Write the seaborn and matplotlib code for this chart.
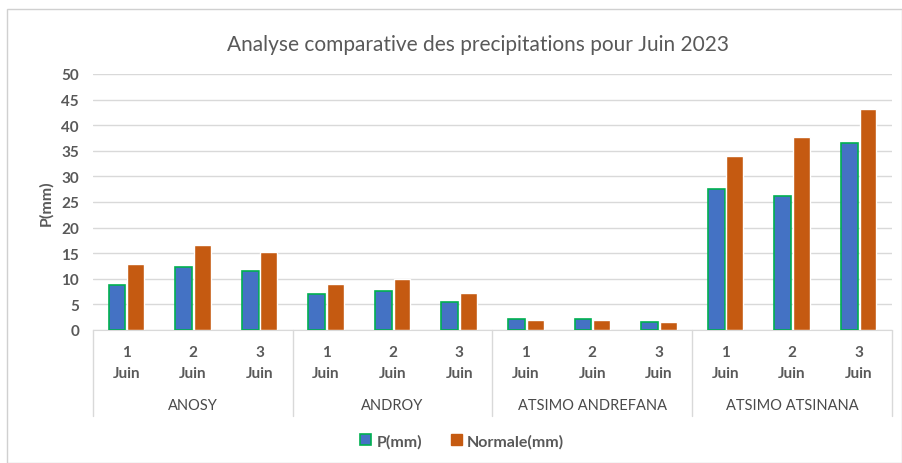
import pandas as pd
import matplotlib.pyplot as plt
import matplotlib.patches as mpatches
import seaborn as sns

regions = ["ANOSY", "ANDROY", "ATSIMO ANDREFANA", "ATSIMO ATSINANA"]
days = ["1\nJuin", "2\nJuin", "3\nJuin"]
p_mm = [8.8, 12.4, 11.6, 7.0, 7.6, 5.4, 2.1, 2.1, 1.5, 27.5, 26.1, 36.5]
normale_mm = [12.9, 16.6, 15.3, 9.0, 9.9, 7.3, 1.9, 1.9, 1.5, 33.9, 37.7, 43.2]

keys = [f"{r}|{d}" for r in regions for d in days]
df = pd.DataFrame({
    "cat": keys * 2,
    "val": p_mm + normale_mm,
    "serie": ["P(mm)"] * len(keys) + ["Normale(mm)"] * len(keys),
})

blue = "#4472C4"
orange = "#C55A11"
green = "#00B050"
txt = "#595959"
line = "#D9D9D9"

sns.set_style("white")
plt.rcParams["font.family"] = ["Lato", "DejaVu Sans"]

fig = plt.figure(figsize=(9.03, 4.64), dpi=100)
ax = fig.add_axes([93 / 903, 133 / 464, 799 / 903, 256 / 464])

sns.barplot(data=df, x="cat", y="val", hue="serie", order=keys,
            palette={"P(mm)": blue, "Normale(mm)": orange}, saturation=1,
            width=0.56, gap=0.1, legend=False, ax=ax, zorder=3)

for bar in ax.containers[0]:
    bar.set_edgecolor(green)
    bar.set_linewidth(1.2)

ax.set_ylim(0, 50)
ax.set_xlim(-0.5, len(keys) - 0.5)
ax.set_yticks(range(0, 51, 5))
ax.yaxis.grid(True, color=line, lw=1, zorder=0)
ax.tick_params(axis="y", length=0, labelsize=11, labelcolor=txt, pad=10)
for lbl in ax.get_yticklabels():
    lbl.set_fontweight("bold")
ax.set_ylabel("P(mm)", fontsize=11.5, fontweight="bold", color=txt, labelpad=6)
ax.set_xlabel("")
ax.set_xticks([])
for s in ["left", "right", "top"]:
    ax.spines[s].set_visible(False)
ax.spines["bottom"].set_color(line)

# two-level category axis
trans = ax.get_xaxis_transform()
drop = 86 / 256
for b in [-0.5, 2.5, 5.5, 8.5, 11.5]:
    ax.plot([b, b], [0, -drop], transform=trans, color=line, lw=1, clip_on=False)
for i, k in enumerate(keys):
    num, mois = k.split("|")[1].split("\n")
    ax.text(i, -22 / 256, num, transform=trans, ha="center", va="center",
            fontsize=11, fontweight="bold", color=txt)
    ax.text(i, -43 / 256, mois, transform=trans, ha="center", va="center",
            fontsize=11, fontweight="bold", color=txt)
for j, r in enumerate(regions):
    ax.text(j * 3 + 1, -75 / 256, r, transform=trans, ha="center", va="center",
            fontsize=10.5, color="#4a4a4a")

fig.text(478 / 903, 1 - 45 / 464, "Analyse comparative des precipitations pour Juin 2023",
         ha="center", va="center", fontsize=15, color=txt)

handles = [mpatches.Patch(facecolor=blue, edgecolor=green, lw=1.2, label="P(mm)"),
           mpatches.Patch(facecolor=orange, edgecolor=orange, label="Normale(mm)")]
leg = fig.legend(handles=handles, loc="center", bbox_to_anchor=(462 / 903, 1 - 442 / 464),
                 ncol=2, frameon=False, fontsize=11.5, handlelength=0.7, handleheight=0.7,
                 handletextpad=0.3, columnspacing=1.8)
for t in leg.get_texts():
    t.set_color(txt)
    t.set_fontweight("bold")

fig.patches.append(mpatches.Rectangle((7 / 903, 0), 895 / 903, 1 - 10 / 464,
                                      transform=fig.transFigure, fill=False,
                                      edgecolor="#D0D0D0", lw=1))

fig.savefig("out.png", dpi=100)
